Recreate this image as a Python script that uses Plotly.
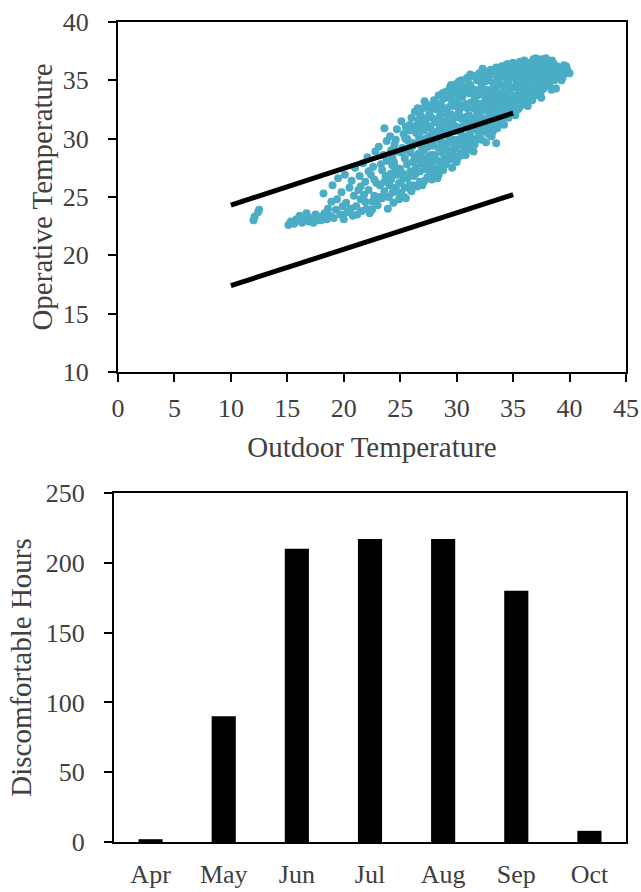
import plotly.graph_objects as go

# ---- Data ----
scatter_points = [
    (12.0,23.0),(12.1,23.3),(12.4,23.7),(12.5,23.9),
    (15.1,22.6),(15.3,22.9),(15.6,22.7),(15.8,23.1),
    (16.1,23.4),(16.3,22.8),(16.5,23.0),(16.7,23.6),(16.9,22.9),
    (17.0,23.2),(17.3,22.8),(17.5,23.5),(17.7,23.0),(17.9,23.3),
    (18.0,23.0),(18.2,25.3),(18.3,23.6),(18.5,23.1),(18.6,24.0),(18.8,23.4),(18.9,24.6),
    (19.0,26.0),(19.1,23.2),(19.3,23.9),(19.4,24.8),(19.5,26.6),(19.7,23.5),(19.8,25.4),(19.9,24.2),
    (20.0,23.1),(20.1,26.9),(20.2,24.5),(20.3,23.7),(20.5,25.8),(20.6,24.0),(20.7,26.4),(20.8,23.4),(20.9,25.1),
    (21.0,27.5),(21.1,24.2),(21.2,23.5),(21.3,25.6),(21.4,26.8),(21.5,24.8),(21.6,23.8),(21.7,27.9),(21.8,25.2),(21.9,26.3),
    (22.0,24.0),(22.1,28.4),(22.2,25.6),(22.3,23.6),(22.4,26.9),(22.5,24.6),(22.6,27.6),(22.7,25.1),(22.8,28.9),(22.9,26.2),(22.5,23.9),(22.2,27.2),
    (23.0,24.3),(23.1,29.3),(23.2,26.0),(23.3,27.8),(23.4,24.9),(23.5,28.6),(23.6,30.9),(23.6,25.5),(23.7,26.8),(23.8,29.8),(23.9,24.0),(23.4,27.3),(23.8,28.1),
    (24.0,25.0),(24.1,30.2),(24.2,26.5),(24.3,28.4),(24.4,24.5),(24.5,29.5),(24.5,27.1),(24.6,25.8),(24.7,30.8),(24.8,28.9),(24.9,26.2),(24.3,27.7),(24.6,29.9),(24.9,24.8),(24.2,29.0),
    (25.0,27.4),(25.1,31.5),(25.1,25.3),(25.2,29.2),(25.3,30.4),(25.3,26.6),(25.4,28.3),(25.5,24.9),(25.5,31.0),(25.6,27.8),(25.7,29.8),(25.8,26.0),(25.8,30.7),(25.9,28.8),(25.4,25.8),(25.6,30.0),(25.9,27.2),
    (26.0,25.5),(26.0,31.8),(26.1,28.0),(26.2,29.6),(26.2,26.8),(26.3,32.3),(26.4,30.5),(26.4,27.5),(26.5,25.9),(26.5,31.2),(26.6,28.7),(26.7,29.9),(26.7,26.3),(26.8,32.0),(26.8,30.9),(26.9,27.9),(26.9,29.2),(26.3,28.4),(26.6,31.6),
    (27.0,26.2),(27.0,32.6),(27.1,29.0),(27.1,30.7),(27.2,27.4),(27.2,31.5),(27.3,28.3),(27.3,33.0),(27.4,29.8),(27.4,26.7),(27.5,31.1),(27.5,27.9),(27.6,32.2),(27.6,30.2),(27.7,28.6),(27.8,31.8),(27.8,26.5),(27.9,29.4),(27.9,32.9),(27.7,30.9),
    (28.0,27.0),(28.0,33.3),(28.1,29.9),(28.1,31.4),(28.2,28.2),(28.2,32.5),(28.3,30.6),(28.3,26.6),(28.4,33.7),(28.4,29.2),(28.5,31.9),(28.5,27.6),(28.6,30.2),(28.6,32.9),(28.7,28.8),(28.7,31.0),(28.8,33.4),(28.8,27.3),(28.9,29.6),(28.9,32.2),(28.5,30.9),
    (29.0,27.8),(29.0,34.0),(29.1,30.4),(29.1,32.6),(29.2,29.0),(29.2,31.5),(29.3,33.5),(29.3,28.3),(29.4,30.9),(29.4,34.4),(29.5,29.7),(29.5,32.1),(29.6,33.0),(29.6,27.5),(29.7,31.2),(29.7,34.2),(29.8,29.4),(29.8,32.8),(29.9,30.7),(29.9,33.8),(29.3,31.9),(29.6,28.9),
    (30.0,28.0),(30.0,34.7),(30.1,31.0),(30.1,33.2),(30.2,29.5),(30.2,32.3),(30.3,34.1),(30.3,28.7),(30.4,31.7),(30.4,35.0),(30.5,30.2),(30.5,33.6),(30.6,32.8),(30.6,29.0),(30.7,34.5),(30.7,31.3),(30.8,30.0),(30.8,33.0),(30.9,35.2),(30.9,31.9),(30.5,29.8),(30.2,34.9),(30.8,28.6),
    (31.0,29.1),(31.0,35.1),(31.1,32.0),(31.1,33.9),(31.2,30.5),(31.2,34.6),(31.3,31.4),(31.3,33.1),(31.4,29.6),(31.4,35.4),(31.5,32.6),(31.5,30.9),(31.6,34.2),(31.6,33.5),(31.7,31.8),(31.7,29.9),(31.8,35.0),(31.8,32.3),(31.9,30.6),(31.9,34.0),(31.2,35.5),(31.5,28.9),
    (32.0,30.2),(32.0,35.6),(32.1,33.0),(32.1,31.6),(32.2,34.5),(32.2,29.9),(32.3,32.4),(32.3,35.2),(32.4,31.1),(32.4,33.8),(32.5,30.6),(32.5,34.9),(32.6,32.8),(32.6,35.7),(32.7,31.5),(32.7,34.2),(32.8,33.3),(32.8,30.4),(32.9,35.4),(32.9,32.0),(32.3,36.0),(32.6,29.7),
    (33.0,31.0),(33.0,35.9),(33.1,33.6),(33.1,32.2),(33.2,34.8),(33.2,30.6),(33.3,33.0),(33.3,35.5),(33.4,31.7),(33.4,34.3),(33.5,32.5),(33.5,36.1),(33.6,30.9),(33.6,33.9),(33.7,35.0),(33.7,32.0),(33.8,34.6),(33.8,31.3),(33.9,35.8),(33.9,33.2),(33.5,29.6),
    (34.0,31.6),(34.0,36.2),(34.1,34.0),(34.1,32.7),(34.2,35.3),(34.2,31.2),(34.3,33.4),(34.3,35.9),(34.4,32.1),(34.4,34.7),(34.5,33.0),(34.5,36.4),(34.6,31.8),(34.6,35.0),(34.7,34.2),(34.7,32.5),(34.8,35.6),(34.8,33.7),(34.9,36.0),(34.9,32.3),
    (35.0,32.4),(35.0,36.5),(35.1,34.4),(35.1,33.1),(35.2,35.7),(35.2,32.0),(35.3,34.9),(35.3,36.2),(35.4,33.5),(35.5,35.3),(35.5,32.6),(35.6,36.6),(35.6,34.0),(35.7,33.2),(35.8,35.9),(35.8,34.7),(35.9,32.9),(35.9,36.3),
    (36.0,33.6),(36.0,36.7),(36.1,35.1),(36.2,34.2),(36.2,36.0),(36.3,32.8),(36.4,35.6),(36.4,33.9),(36.5,36.5),(36.5,34.6),(36.6,35.3),(36.7,33.3),(36.8,36.8),(36.8,34.9),(36.9,35.8),(36.9,33.7),
    (37.0,34.5),(37.0,36.9),(37.1,35.6),(37.2,33.9),(37.3,36.3),(37.3,34.8),(37.4,35.2),(37.5,36.8),(37.5,33.5),(37.6,35.9),(37.7,34.3),(37.8,36.4),(37.9,35.0),(37.9,36.9),
    (38.0,35.5),(38.1,36.6),(38.2,34.6),(38.3,36.0),(38.4,34.2),(38.5,35.3),(38.6,36.4),(38.8,34.3),(38.8,35.8),(38.9,36.2),
    (39.0,35.4),(39.2,36.0),(39.3,35.0),(39.5,36.3),(39.6,35.6),(39.8,35.9),
    (40.0,35.6),
    # second pass, filling the dense core
    (24.15,27.0),(24.45,28.0),(24.75,26.9),(25.15,28.8),(25.45,30.0),(25.75,29.0),(25.25,27.0),(25.85,31.2),
    (26.05,29.3),(26.25,30.9),(26.45,28.2),(26.65,30.2),(26.85,28.4),(26.15,27.2),(26.55,32.6),(26.95,31.3),
    (27.05,28.0),(27.25,30.0),(27.35,31.8),(27.45,29.3),(27.55,32.6),(27.65,27.2),(27.85,30.4),(27.95,28.1),(27.15,33.2),
    (28.05,28.6),(28.15,30.4),(28.25,33.0),(28.35,31.6),(28.45,28.0),(28.55,32.4),(28.65,29.6),(28.75,33.9),(28.85,30.5),(28.95,31.5),
    (29.05,29.4),(29.15,31.1),(29.25,33.9),(29.35,30.0),(29.45,32.8),(29.55,31.6),(29.65,29.9),(29.75,33.5),(29.85,31.8),(29.95,28.4),(29.5,34.6),
    (30.05,29.9),(30.15,32.0),(30.25,33.7),(30.35,30.6),(30.45,32.7),(30.55,34.3),(30.65,31.8),(30.75,29.7),(30.85,34.0),(30.95,32.6),(30.45,28.6),
    (31.05,30.3),(31.15,31.4),(31.25,32.8),(31.35,34.3),(31.45,30.0),(31.55,33.1),(31.65,35.3),(31.75,31.2),(31.85,33.7),(31.95,32.0),(31.3,29.2),
    (32.05,31.2),(32.15,32.6),(32.25,34.0),(32.35,30.7),(32.45,35.6),(32.55,33.4),(32.65,31.1),(32.75,35.0),(32.85,32.6),(32.95,34.0),(32.1,35.0),
    (33.05,32.6),(33.15,34.2),(33.25,31.5),(33.35,35.9),(33.45,33.3),(33.55,34.9),(33.65,31.8),(33.75,33.5),(33.85,35.3),(33.95,32.4),(33.1,30.2),
    (34.05,33.1),(34.15,34.6),(34.25,32.2),(34.35,36.3),(34.45,33.8),(34.55,35.5),(34.65,32.9),(34.75,35.9),(34.85,34.4),(34.95,33.3),
    (35.05,33.7),(35.15,35.2),(35.25,33.0),(35.35,35.8),(35.45,34.3),(35.55,33.8),(35.65,35.0),(35.75,36.2),(35.85,33.5),(35.95,35.4),
    (36.05,34.5),(36.15,33.4),(36.25,35.5),(36.35,36.4),(36.45,34.1),(36.55,35.9),(36.65,34.3),(36.75,36.2),(36.85,33.9),(36.95,35.2),
    (37.05,35.3),(37.15,36.5),(37.25,34.3),(37.35,35.8),(37.45,34.0),(37.55,35.5),(37.65,36.6),(37.75,34.7),(37.85,35.6),
    (38.05,34.9),(38.25,35.9),(38.45,36.7),(38.65,35.0),(38.95,35.4),(38.35,35.2),
    (39.1,35.7),(39.4,35.3),(39.7,36.2),
    # third pass, lower part of the cloud
    (24.05,26.0),(24.35,25.4),(24.65,27.5),(24.85,25.4),(25.05,26.2),(25.35,25.0),(25.65,26.6),(25.95,25.6),
    (26.1,26.0),(26.35,27.0),(26.75,27.2),(26.95,26.0),(27.15,26.4),(27.45,28.4),(27.75,27.6),(27.95,26.9),
    (28.15,27.4),(28.4,26.9),(28.65,27.9),(28.9,28.3),(29.1,28.0),(29.4,28.6),(29.7,28.2),(29.9,29.2),
    (30.15,28.4),(30.6,29.6),(31.0,29.7),(31.6,29.5),(32.0,30.7),(32.5,31.7),(33.0,31.6),(33.6,32.6),
    (34.2,32.6),(34.8,33.0),(35.4,32.5),
    (23.2,25.0),(23.6,26.3),(22.7,26.5),(22.9,24.8),(21.9,24.6),(21.5,25.9),
]
outdoor_temp = [p[0] for p in scatter_points]
operative_temp = [p[1] for p in scatter_points]

comfort_outdoor = [10, 35]
comfort_upper = [24.3, 32.2]
comfort_lower = [17.4, 25.2]

months = ["Apr", "May", "Jun", "Jul", "Aug", "Sep", "Oct"]
discomfort_hours = [2, 90, 210, 217, 217, 180, 8]

# ---- Figure ----
W, H = 641, 892
FONT = "Liberation Serif"
TXT = "#404040"
TICK_SIZE = 26
TITLE_SIZE = 29


def dx(px):
    return px / W


def dy(py):
    return (H - py) / H


fig = go.Figure()
fig.add_trace(go.Scatter(x=outdoor_temp, y=operative_temp, mode="markers",
                         marker=dict(size=8, color="#4BACC6"),
                         xaxis="x", yaxis="y", showlegend=False))
fig.add_trace(go.Scatter(x=comfort_outdoor, y=comfort_upper, mode="lines",
                         line=dict(color="black", width=5),
                         xaxis="x", yaxis="y", showlegend=False))
fig.add_trace(go.Scatter(x=comfort_outdoor, y=comfort_lower, mode="lines",
                         line=dict(color="black", width=5),
                         xaxis="x", yaxis="y", showlegend=False))
fig.add_trace(go.Bar(x=months, y=discomfort_hours, marker=dict(color="black", line=dict(width=0)),
                     xaxis="x2", yaxis="y2", showlegend=False))

axis_common = dict(showline=True, linecolor="black", linewidth=2, mirror=True,
                   showgrid=False, zeroline=False, automargin=False,
                   tickfont=dict(family=FONT, size=TICK_SIZE, color=TXT))
title_font = dict(family=FONT, size=TITLE_SIZE, color=TXT)

fig.update_layout(
    template="none",
    width=W, height=H,
    margin=dict(l=0, r=0, t=0, b=0),
    plot_bgcolor="white", paper_bgcolor="white",
    bargap=0.67,
    xaxis=dict(domain=[dx(118), dx(626)], range=[0, 45], dtick=5, tick0=0,
               ticks="outside", ticklen=8, tickwidth=2, tickcolor="black",
               ticklabelstandoff=4,
               title=dict(text="Outdoor Temperature", standoff=14, font=title_font),
               anchor="y", **axis_common),
    yaxis=dict(domain=[dy(372), dy(22)], range=[10, 40], dtick=5, tick0=10,
               ticks="outside", ticklen=8, tickwidth=2, tickcolor="black",
               ticklabelstandoff=14,
               title=dict(text="Operative Temperature", standoff=2, font=title_font),
               anchor="x", **axis_common),
    xaxis2=dict(domain=[dx(114), dx(626)], ticks="", ticklabelstandoff=8,
                anchor="y2", **axis_common),
    yaxis2=dict(domain=[dy(842), dy(493)], range=[0, 250], dtick=50,
                ticks="outside", ticklen=8, tickwidth=2, tickcolor="black",
                ticklabelstandoff=14,
                title=dict(text="Discomfortable Hours", standoff=6, font=title_font),
                anchor="x2", **axis_common),
)

fig.write_html("out.html",
               config={"displayModeBar": False},
               post_script="document.body.style.margin='0px';document.body.style.overflow='hidden';")
